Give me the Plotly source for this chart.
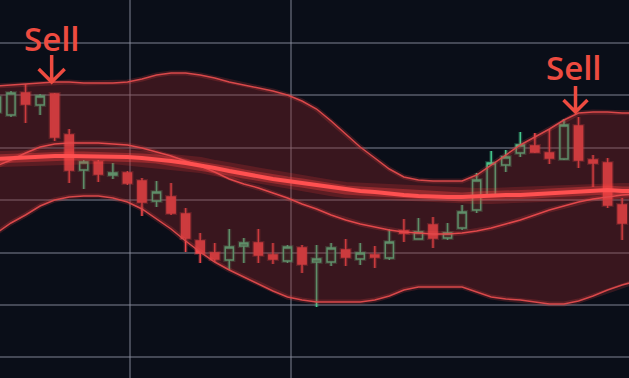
import plotly.graph_objects as go

# ---- data ----
idx = list(range(44))
opens  = [77.6, 77.0, 81.4, 79.0, 81.2, 73.0, 66.0, 67.6, 65.0, 65.4, 63.8, 59.8, 60.6, 57.2, 51.8,
          49.4, 48.0, 50.8, 51.4, 49.0, 47.8, 50.4, 47.6, 47.6, 50.0, 48.2, 49.0, 48.4, 53.8, 52.2,
          55.0, 52.4, 54.4, 58.0, 61.0, 67.0, 69.4, 70.8, 69.4, 68.2, 74.8, 68.0, 67.4, 59.0]
highs  = [81.6, 81.8, 83.2, 81.2, 81.4, 74.2, 68.0, 68.0, 67.4, 65.8, 64.4, 63.8, 63.4, 58.4, 53.4,
          51.4, 54.2, 52.4, 54.2, 51.4, 51.0, 51.0, 51.0, 51.4, 52.2, 51.4, 50.8, 54.2, 56.2, 56.4,
          56.6, 55.4, 59.0, 65.4, 69.8, 70.0, 73.6, 73.4, 74.2, 76.2, 76.6, 69.0, 68.4, 60.4]
lows   = [76.4, 76.6, 75.4, 77.0, 71.8, 63.4, 62.2, 63.6, 64.2, 63.0, 56.8, 58.6, 57.0, 49.6, 47.4,
          47.6, 46.0, 47.4, 47.4, 47.2, 47.4, 45.4, 38.6, 46.8, 46.8, 47.0, 46.4, 48.0, 51.6, 52.2,
          50.4, 52.0, 54.0, 57.4, 61.0, 65.6, 68.6, 69.4, 67.2, 68.0, 66.4, 62.6, 58.4, 52.0]
closes = [80.6, 81.4, 79.2, 80.8, 72.6, 66.0, 67.6, 65.2, 65.4, 63.4, 59.6, 61.6, 57.4, 52.4, 49.4,
          48.2, 50.6, 51.4, 49.0, 48.2, 50.6, 47.2, 48.2, 50.4, 48.6, 49.4, 48.6, 51.6, 53.4, 53.6,
          52.4, 53.4, 57.6, 64.0, 67.4, 68.6, 71.0, 69.6, 68.4, 75.0, 68.0, 67.4, 59.0, 55.4]

band_idx = list(range(45))
upper_band = [82.8, 83.0, 83.2, 83.4, 83.6, 83.6, 83.4, 83.4, 83.4, 83.6, 84.2, 85.0, 85.4, 85.4, 85.0,
              84.4, 83.6, 83.0, 82.4, 81.8, 81.0, 79.8, 78.2, 75.8, 73.2, 70.6, 68.4, 66.2, 64.6, 64.0,
              63.8, 63.8, 63.8, 65.0, 67.0, 69.0, 71.0, 72.6, 74.2, 76.0, 77.4, 77.6, 77.6, 77.4, 77.4]
lower_band = [53.4, 55.4, 57.0, 58.8, 60.0, 60.6, 60.8, 60.8, 60.4, 59.6, 58.2, 56.2, 54.2, 51.8, 49.6,
              47.6, 46.0, 44.6, 43.2, 41.8, 40.6, 40.0, 39.6, 39.6, 39.6, 39.6, 40.0, 40.8, 42.0, 42.6,
              42.6, 42.6, 42.6, 41.6, 40.6, 40.2, 40.0, 39.6, 39.2, 39.2, 39.8, 40.8, 42.0, 43.0, 43.8]
middle_band = [68.2, 68.4, 68.6, 68.6, 68.8, 68.8, 68.8, 68.8, 68.8, 68.6, 68.4, 68.2, 67.8, 67.4, 67.0,
               66.4, 65.8, 65.2, 64.6, 64.2, 63.8, 63.4, 62.8, 62.4, 62.0, 61.8, 61.6, 61.2, 61.0, 60.8,
               60.6, 60.6, 60.6, 60.8, 60.8, 61.0, 61.0, 61.2, 61.4, 61.6, 61.8, 62.0, 62.0, 61.8, 61.8]
fast_ma = [66.8, 68.0, 69.4, 70.6, 71.2, 71.4, 71.4, 71.4, 71.2, 71.0, 70.4, 69.6, 68.8, 67.8, 66.8,
           65.6, 64.2, 63.2, 62.4, 61.4, 60.4, 59.2, 58.2, 57.0, 56.0, 55.2, 54.6, 54.0, 53.6, 53.4,
           53.2, 53.2, 53.4, 53.8, 54.4, 55.2, 56.0, 57.0, 58.0, 58.8, 59.6, 60.2, 60.6, 61.0, 61.2]

sell_idx = [4, 40]
sell_label = "Sell"

BG = "#0a0e18"
RED = "#f0474a"
GREEN = "#45c98e"
BAND = "#d9484a"
TXT = "#ee4b40"

fig = go.Figure()

# band fill
fig.add_trace(go.Scatter(x=band_idx, y=upper_band, mode="lines",
                         line=dict(color="rgba(0,0,0,0)", width=0), hoverinfo="skip", showlegend=False))
fig.add_trace(go.Scatter(x=band_idx, y=lower_band, mode="lines", fill="tonexty",
                         fillcolor="rgba(140,40,42,0.36)",
                         line=dict(color="rgba(0,0,0,0)", width=0), hoverinfo="skip", showlegend=False))

# glow layers
for series, w in [(upper_band, 5), (lower_band, 5), (fast_ma, 5)]:
    fig.add_trace(go.Scatter(x=band_idx, y=series, mode="lines", line=dict(color="rgba(255,70,70,0.18)", width=w),
                             hoverinfo="skip", showlegend=False))
fig.add_trace(go.Scatter(x=band_idx, y=middle_band, mode="lines",
                         line=dict(color="rgba(255,60,60,0.18)", width=16), hoverinfo="skip", showlegend=False))
fig.add_trace(go.Scatter(x=band_idx, y=middle_band, mode="lines",
                         line=dict(color="rgba(255,70,70,0.35)", width=9), hoverinfo="skip", showlegend=False))

# band lines
fig.add_trace(go.Scatter(x=band_idx, y=upper_band, mode="lines", line=dict(color=BAND, width=1.5),
                         hoverinfo="skip", showlegend=False))
fig.add_trace(go.Scatter(x=band_idx, y=lower_band, mode="lines", line=dict(color=BAND, width=1.5),
                         hoverinfo="skip", showlegend=False))
fig.add_trace(go.Scatter(x=band_idx, y=fast_ma, mode="lines", line=dict(color="#e2484b", width=1.5),
                         hoverinfo="skip", showlegend=False))
fig.add_trace(go.Scatter(x=band_idx, y=middle_band, mode="lines", line=dict(color="#ff5050", width=4),
                         hoverinfo="skip", showlegend=False))

# candle glow
fig.add_trace(go.Candlestick(x=idx, open=opens, high=highs, low=lows, close=closes, opacity=0.25,
                             increasing=dict(line=dict(color=GREEN, width=4), fillcolor="rgba(0,0,0,0)"),
                             decreasing=dict(line=dict(color=RED, width=4), fillcolor=RED),
                             hoverinfo="skip", showlegend=False))
# candles
fig.add_trace(go.Candlestick(x=idx, open=opens, high=highs, low=lows, close=closes,
                             increasing=dict(line=dict(color=GREEN, width=1.5), fillcolor="rgba(18,40,34,0.55)"),
                             decreasing=dict(line=dict(color=RED, width=1.5), fillcolor=RED),
                             showlegend=False))

# Sell labels and arrows
for i, (xs, ys) in zip(sell_idx, [(-3, 55), (-5, 50)]):
    h = highs[i]
    fig.add_annotation(x=i, y=h, text=sell_label, showarrow=False, xshift=xs, yshift=ys,
                       yanchor="middle", font=dict(family="Open Sans", size=33, color=TXT, weight=600))
for i, (top, tip, arm) in zip(sell_idx, [(38, 11, 13), (31, 5, 12)]):
    h = highs[i]
    path = (f"M -3,{top} L -3,{tip} M {-3-arm},{tip+arm} L -3,{tip} L {-3+arm},{tip+arm}")
    fig.add_shape(type="path", xref="x", yref="y", xsizemode="pixel", ysizemode="pixel",
                  xanchor=i, yanchor=h, path=path, line=dict(color=TXT, width=3.5))

fig.update_layout(
    width=629, height=378, margin=dict(l=0, r=0, t=0, b=0),
    paper_bgcolor=BG, plot_bgcolor=BG, showlegend=False, boxgap=0.2,
    xaxis=dict(range=[0.244, 43.47], rangeslider=dict(visible=False), showticklabels=False,
               tickvals=[9.18, 20.24], showgrid=True, gridcolor="rgba(140,145,160,0.45)", gridwidth=1.5,
               zeroline=False, showline=False, ticks=""),
    yaxis=dict(range=[24.4, 100.0], showticklabels=False, tick0=91.4, dtick=10.48,
               showgrid=True, gridcolor="rgba(140,145,160,0.45)", gridwidth=1.5,
               zeroline=False, showline=False, ticks=""),
)

fig.write_html("out.html", config={"displayModeBar": False},
               post_script="document.body.style.margin='0';document.body.style.padding='0';"
                           "document.body.style.background='" + BG + "';")
